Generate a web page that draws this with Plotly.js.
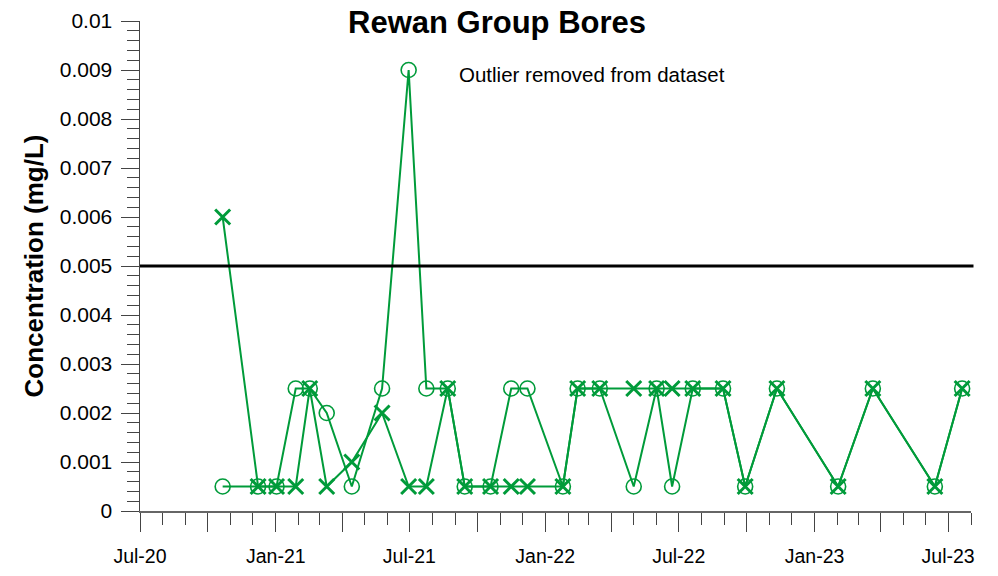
<!DOCTYPE html>
<html>
<head>
<meta charset="utf-8">
<script src="https://cdn.plot.ly/plotly-3.0.1.min.js"></script>
<style>html,body{margin:0;padding:0;background:#fff;}#chart{width:998px;height:576px;}</style>
</head>
<body>
<div id="chart"></div>
<script>
// Sampling dates (shared by both bores)
const sampleDates = [
  '2020-10-21','2020-12-08','2021-01-02','2021-01-28','2021-02-16','2021-03-11',
  '2021-04-14','2021-05-25','2021-06-30','2021-07-24','2021-08-22','2021-09-14',
  '2021-10-19','2021-11-16','2021-12-08','2022-01-25','2022-02-14','2022-03-16',
  '2022-05-01','2022-06-01','2022-06-22','2022-07-20','2022-08-30','2022-09-29',
  '2022-11-11','2023-02-02','2023-03-21','2023-06-13','2023-07-20'
];
// Bore A (circle markers)
const boreCircle = [
  0.0005,0.0005,0.0005,0.0025,0.0025,0.002,
  0.0005,0.0025,0.009,0.0025,0.0025,0.0005,
  0.0005,0.0025,0.0025,0.0005,0.0025,0.0025,
  0.0005,0.0025,0.0005,0.0025,0.0025,0.0005,
  0.0025,0.0005,0.0025,0.0005,0.0025
];
// Bore B (x markers)
const boreCross = [
  0.006,0.0005,0.0005,0.0005,0.0025,0.0005,
  0.001,0.002,0.0005,0.0005,0.0025,0.0005,
  0.0005,0.0005,0.0005,0.0005,0.0025,0.0025,
  0.0025,0.0025,0.0025,0.0025,0.0025,0.0005,
  0.0025,0.0005,0.0025,0.0005,0.0025
];
const guideline = 0.005;
const tickDates = ['2020-07-01','2020-10-01','2021-01-01','2021-04-01','2021-07-01','2021-10-01',
  '2022-01-01','2022-04-01','2022-07-01','2022-10-01','2023-01-01','2023-04-01','2023-07-01'];
const tickLabels = ['Jul-20','','Jan-21','','Jul-21','','Jan-22','','Jul-22','','Jan-23','','Jul-23'];

const green = 'rgb(0,155,58)';
const font = 'Liberation Sans, Arial, sans-serif';

const traces = [
  {
    x: sampleDates, y: boreCircle, type: 'scatter', mode: 'lines+markers',
    line: {color: green, width: 2},
    marker: {symbol: 'circle-open', size: 15, color: green, line: {color: green, width: 1.6}},
    showlegend: false, cliponaxis: false
  },
  {
    x: sampleDates, y: boreCross, type: 'scatter', mode: 'lines+markers',
    line: {color: green, width: 2},
    marker: {symbol: 'x-thin-open', size: 15, color: green, line: {color: green, width: 3}},
    showlegend: false, cliponaxis: false
  }
];

const layout = {
  width: 998, height: 576,
  margin: {l: 140, r: 27, t: 21, b: 65},
  paper_bgcolor: '#fff', plot_bgcolor: '#fff',
  font: {family: font, color: '#000'},
  title: {text: '<b>Rewan Group Bores</b>', font: {family: font, size: 31, color: '#000'},
    x: 0.498, xref: 'container', xanchor: 'center', y: 1 - 22/576, yref: 'container', yanchor: 'middle'},
  xaxis: {
    type: 'date', range: ['2020-07-01', '2023-08-01'],
    tickmode: 'array', tickvals: tickDates, ticktext: tickLabels,
    ticks: 'outside', ticklen: 19, tickwidth: 1, tickcolor: '#444',
    showline: true, linecolor: '#666', linewidth: 1.5,
    showgrid: false, zeroline: false,
    tickfont: {family: font, size: 19.5, color: '#000'},
    ticklabelstandoff: 8,
    minor: {dtick: 'M1', tick0: '2020-07-01', ticks: 'outside', ticklen: 12, tickwidth: 1, tickcolor: '#444', showgrid: false}
  },
  yaxis: {
    range: [0, 0.01], dtick: 0.001, tick0: 0,
    ticks: 'outside', ticklen: 18, tickwidth: 1, tickcolor: '#444',
    showline: true, linecolor: '#444', linewidth: 1.5,
    showgrid: false, zeroline: false,
    tickfont: {family: font, size: 21, color: '#000'},
    ticklabelstandoff: 4,
    title: {text: '<b>Concentration (mg/L)</b>', font: {family: font, size: 26, color: '#000'}, standoff: 8},
    minor: {dtick: 0.0002, ticks: 'outside', ticklen: 12, tickwidth: 1, tickcolor: '#444', showgrid: false}
  },
  shapes: [{type: 'line', xref: 'paper', x0: 0, x1: 1.003, yref: 'y', y0: guideline, y1: guideline,
    line: {color: '#000', width: 3}}],
  annotations: [{text: 'Outlier removed from dataset', xref: 'paper', x: 0.3815, xanchor: 'left',
    yref: 'paper', y: 0.8898, yanchor: 'middle', showarrow: false,
    font: {family: font, size: 20.5, color: '#000'}}]
};

Plotly.newPlot('chart', traces, layout, {displayModeBar: false, staticPlot: true});
</script>
</body>
</html>
